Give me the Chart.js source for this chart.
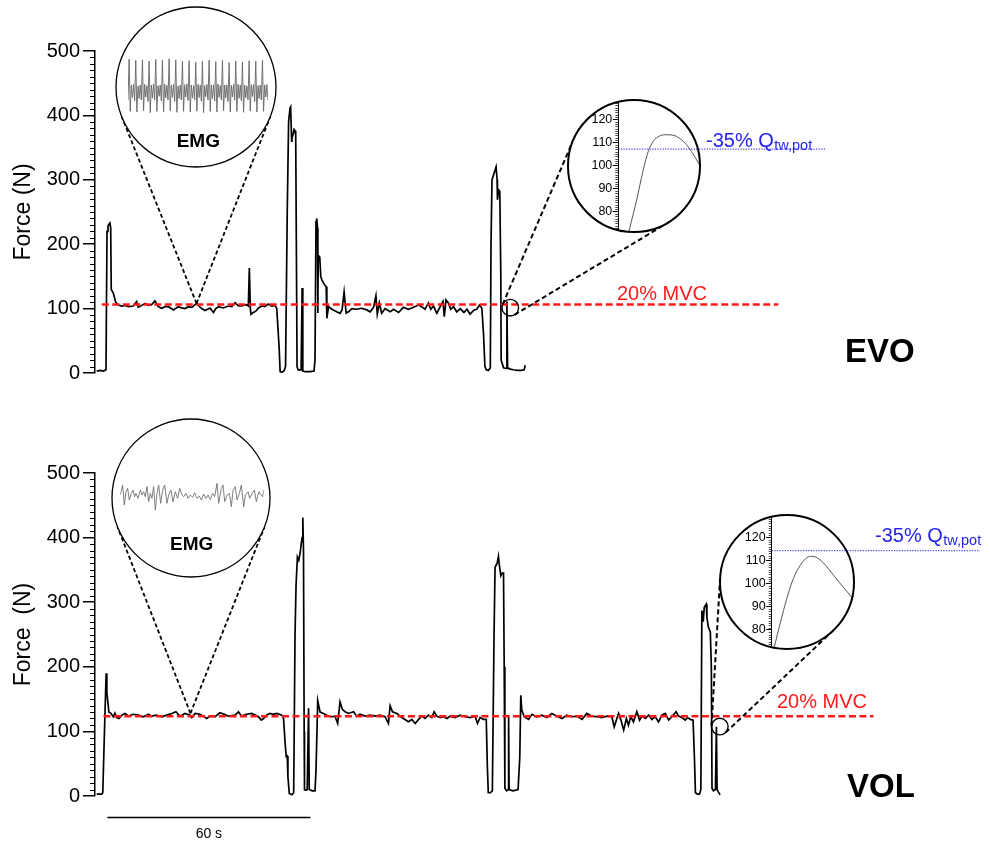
<!DOCTYPE html>
<html><head><meta charset="utf-8">
<script src="https://cdn.jsdelivr.net/npm/chart.js@4.4.1/dist/chart.umd.min.js"></script>
<style>
html,body{margin:0;padding:0;background:#fff;}
#wrap{position:relative;width:990px;height:842px;overflow:hidden;background:#fff;}
#wrap canvas{position:absolute;}
</style></head><body><div id="wrap"></div>
<script>
// ================= DATA =================
// EVO force trace: time (s), force (N)
const evoTime = [0.5,1.5,2.5,3.25,3.55,3.84,4.1,4.43,4.64,4.8,5.4,6.1,6.9,7.9,9.0,9.9,11.3,12.3,12.8,13.8,14.8,15.8,16.7,17.7,18.7,19.7,20.7,21.7,23.2,24.6,25.6,26.6,27.6,28.6,30.0,30.7,31.5,32.5,34.0,35.0,35.7,36.5,37.9,39.4,40.4,41.4,42.4,43.3,44.8,45.3,45.6,45.9,46.1,46.8,47.5,48.3,49.3,50.2,51.2,52.2,53.2,53.7,54.4,54.7,55.3,55.9,56.3,56.8,57.2,57.6,57.8,58.1,58.2,58.5,58.8,59.1,59.3,59.6,59.7,60.0,60.9,61.2,61.4,62.1,63.6,64.7,65.0,65.3,65.5,65.75,65.85,65.95,66.4,66.7,67.0,67.7,68.3,68.5,69.0,70.0,71.4,72.4,73.0,73.6,74.2,74.9,75.9,77.3,78.8,80.3,81.3,82.3,83.0,83.4,84.0,84.7,85.7,87.2,88.2,89.7,91.1,92.6,94.1,95.6,96.5,97.5,98.5,99.2,100.0,101.0,102.0,102.8,103.2,103.7,104.4,105.1,105.9,106.9,107.9,109.0,109.9,110.8,112.0,112.8,113.6,114.3,114.8,115.2,115.6,116.2,116.8,117.0,117.3,117.9,118.5,118.8,118.9,119.3,119.6,119.9,120.0,120.7,121.5,121.7,121.9,122.7,123.6,124.7,125.9,126.8,127.1];
const evoForce = [3,4,3,5,220,228,231,233,225,130,124,110,105.6,104,105,103,104,111,102,105,108,105,106,112,103,100.5,103,103,98,103,101,100,103,102,108,104,100,97,101,94,100,103,101,104,103,109,104,104,106,104,163,100,91,94,96,101,104,103,107,104,105,100,40,2,1,4,10,250,390,411,413,360,365,370,378,376,370,100,10,5,5,132,3,2,2,3,20,235,240,225,93,183,180,150,145,138,134,85,103,99,95,92.7,98,126,93,95,100,99,100.5,98,95,102,120,91.5,108.7,92.7,100,95,99,94,102,99,102,105.6,103,99,108.7,99,104,92.7,103,111,87.6,113.5,108.7,99,103,95,100,94,99,91.5,97.8,99,105.6,100.5,60,10,5,4,8,200,300,310,320,300,269,284,282,150,20,8,7,111,8,6,5,4,4,5,12];

// VOL force trace: time (s), force (N)
const volTime = [0.5,2.0,2.3,2.9,3.3,3.5,3.75,4.1,4.7,5.4,5.9,6.4,7.1,7.9,8.9,9.9,11.3,12.8,14.3,15.8,16.7,18.2,19.7,21.2,22.7,23.9,25.1,26.6,28.1,28.6,29.6,31.0,32.0,33.0,34.0,35.5,36.9,38.4,39.4,41.4,42.4,43.3,44.8,46.3,47.3,48.3,49.1,49.8,50.7,51.7,52.7,53.7,55.2,55.7,56.2,56.5,56.8,57.0,57.4,58.2,58.7,59.1,59.4,59.8,60.2,60.6,60.9,61.2,61.4,61.6,61.8,61.9,62.4,62.7,63.1,63.3,64.2,65.0,65.3,65.8,66.5,67.5,69.0,70.0,70.9,71.7,72.4,73.1,73.9,74.9,76.4,77.3,78.3,79.8,81.3,82.8,84.2,85.7,86.7,87.2,87.9,89.2,90.1,91.1,92.6,93.6,94.6,95.6,96.6,97.5,98.5,99.5,100.2,101.0,102.0,103.0,104.0,104.9,106.4,107.9,109.4,110.8,112.3,113.0,113.8,114.8,115.6,115.9,116.2,116.8,117.4,117.9,118.2,118.8,119.2,119.4,119.9,120.3,120.7,120.9,121.1,121.6,122.1,122.2,122.35,123.5,125.0,125.5,125.8,126.1,126.8,128.1,129.1,130.5,132.0,133.5,135.0,136.5,138.0,139.4,140.9,142.4,143.9,145.3,146.8,148.3,149.8,151.2,152.7,153.4,154.2,154.7,155.4,156.2,157.0,157.6,158.3,159.1,160.1,160.9,161.6,162.6,163.6,164.5,165.5,166.5,167.5,168.5,169.5,170.4,171.7,172.4,173.4,174.4,175.1,175.9,176.7,177.1,177.4,178.0,178.6,179.0,179.3,179.7,180.0,180.6,180.8,181.2,181.8,182.1,182.3,182.7,183.3,183.6,183.8,184.2,184.7];
const volForce = [3,3,5,120,190,160,148,130,128,122.7,128.3,121.5,120,125.2,127.8,123.6,126.5,125.2,122.7,126.5,123.6,125.2,122.7,125.2,127.8,130.4,123.6,127.8,125.2,121.5,127.8,126.5,123.6,120,123.6,122.7,128.8,126.2,123.6,125.2,130.4,123.6,126.5,127.8,125.2,122.7,117.5,120,125.2,127.8,126.5,127.8,125.2,120,80,61,62,30,4,2,5,250,326,370,365,376,389,400,431,380,100,10,9,10,136,10,8,8,40,147.5,130,127.8,123.6,122.7,123.6,112.3,145.7,134,130.4,127.8,130.4,123.6,126.5,123.6,125.2,123.6,125.2,122.7,112.3,139.6,130.4,127.8,123.6,120,114.9,118.5,112.3,118.5,123.6,120,125.2,121.5,130.4,123.6,121.5,122.7,120,123.6,121.5,125.2,122.7,121.5,123.6,112.3,121.5,118.5,118.5,50,5,5,8,250,354,360,371,360,341,345,345,200,12,8,10,125,10,8,10,60,156,133,122.7,118.5,126.5,122.7,125.2,121.5,127.8,123.6,120,125.2,122.7,123.6,118.5,127.8,123.6,122.7,121.5,123.6,122.7,107.1,120,127.8,117.5,102,120,109.7,122.7,114.9,130.4,117.5,123.6,120,125.2,118.5,122.7,114.9,125.2,127.8,117.5,122.7,130.4,123.6,121.5,117.5,121.5,118.5,117.5,60,5,3,3,10,287,270,292,297,276,262,254,200,12,8,10,107,10,6,2];

// 20% MVC reference levels (N) and the time span of each dashed line (s)
const mvcEvo = 106.5, mvcVol = 123.6;
const mvcSpanEvo = [2.0, 201.9];
const mvcSpanVol = [2.5, 230.0];

// Zoomed twitch (inset) curves: time (ms), force (N)
const evoTwitchTime = [5.0,5.5,9.2,12.5,15,17.5,20.8,24.2,29.2,34.2,37.5,40.5,41.5];
const evoTwitchForce = [70,72,85,98,106,110.4,112.8,113.3,112.6,109,105,100.7,99.5];
const volTwitchTime = [0.5,1.3,4.2,7.5,10.8,14.2,17.5,20,22.5,25.8,30.8,35.8,40.5,41.5];
const volTwitchForce = [70,72.7,82.8,93.5,102.2,107.9,111.2,111.8,111.2,108.9,103.6,98.3,93.5,92.5];
// -35% Qtw,pot levels (N)
const qEvo = 107.1, qVol = 114.2;

// EMG snippets (arbitrary units)
const emgEvo = [-0.5, 0.86,-0.88,0.0,-0.42,0.02,-0.52, 0.82,-0.9,-0.03,-0.45,0.0,-0.5, 0.84,-0.86,0.02,-0.4,-0.02,-0.55, 0.8,-0.92,0.0,-0.44,0.03,-0.5, 0.85,-0.88,-0.02,-0.38,0.0,-0.53, 0.83,-0.9,0.03,-0.43,-0.01,-0.5, 0.87,-0.86,0.0,-0.41,0.02,-0.55, 0.84,-0.91,-0.03,-0.45,0.0,-0.5, 0.79,-0.88,0.01,-0.4,0.03,-0.52, 0.81,-0.9,0.0,-0.44,-0.02,-0.5, 0.76,-0.87,0.02,-0.42,0.0,-0.54, 0.8,-0.92,-0.02,-0.39,0.02,-0.5, 0.83,-0.88,0.0,-0.45,0.01,-0.53, 0.78,-0.9,0.03,-0.41,-0.02,-0.5, 0.82,-0.86,0.0,-0.43,0.0,-0.55, 0.75,-0.9,-0.01,-0.4,0.02,-0.5, 0.8,-0.88,0.02,-0.44,0.0,-0.52, 0.77,-0.91,0.0,-0.42,-0.03,-0.5, 0.81,-0.87,0.01,-0.38,0.02,-0.55, 0.79,-0.9,-0.02,-0.45,0.0,-0.5, 0.82,-0.88,0.0,-0.4,0.02,-0.52];
const emgVolTime = [25,32,37,42,47,52,58,63,68,72,78,85,90,95,100,105,110,115,120,125,130,135,140,146,152,158,165,170,177,183,190,197,203,210,215,222,228,235,242,248,255,262,268,275,282,288,295,302,308,315,320,328,333,338,345,352,358,363,370,375,382,388,395,400,408,413,420,427,433,440,447,452,455];
const emgVol = [0.11,0.78,-0.56,0.33,0.56,-0.22,0.22,0.44,0,0.22,-0.11,0.44,0.11,0.33,0,0.67,-0.33,0.22,-0.11,0.67,-0.89,0.22,0.78,-0.44,0.44,0.78,-0.44,0.11,0.44,-0.33,0.33,-0.11,0.56,0.11,0,0.22,-0.11,0.11,-0.04,0.27,-0.11,0.04,-0.22,0.18,-0.11,0.11,-0.18,0.22,0,0.89,-0.44,0.56,0.78,-0.33,0.11,0.22,-0.67,0.44,0.67,-0.22,0.22,0.78,-0.67,0.11,0.33,-0.11,0.22,0.44,-0.33,0.33,0.11,0,0.44];

// sites on the force traces that are magnified: [time s, force N]
const evoEmgSite = [30.0, 108];
const volEmgSite = [28.2, 128];
const evoTwitchSite = [122.7, 101.4];
const volTwitchSite = [184.6, 107.4];
// time scale bar (s)
const scaleBarSpan = [3.64, 63.64];
const scaleBarLabel = '60 s';

// ================= LAYOUT / STYLE =================
const FONT = "'Liberation Sans', Arial, Helvetica, sans-serif";
Chart.defaults.font.family = FONT;
Chart.defaults.color = '#000';
const RED = '#ff1a1a', BLUE = '#2424ee';
const LAY = {
  evo: {top: 0, h: 420, pad: {left: 0, right: 15, top: 51, bottom: 47}, title: 'Force (N)', name: 'EVO', nameX: 845, nameY: 362,
        mvcLabel: {x: 617, y: 300}},
  vol: {top: 420, h: 422, pad: {left: 0, right: 15, top: 53, bottom: 46}, title: 'Force  (N)', name: 'VOL', nameX: 847, nameY: 797,
        mvcLabel: {x: 777, y: 708}},
  evoEmg: {cx: 196, cy: 87, r: 80, area: {l: 128, r: 268, t: 55, b: 115}, label: {x: 198.3, y: 147.3}},
  volEmg: {cx: 191, cy: 498, r: 79, area: {l: 120.3, r: 263.7, t: 478.7, b: 514.7}, label: {x: 191.7, y: 549.5}},
  evoTw: {cx: 634, cy: 166, r: 66, axisX: 618.3, ymin: 71.2, ymax: 128.35, lineEnd: 825, text: {x: 706, y: 146.7}},
  volTw: {cx: 787, cy: 582, r: 67, axisX: 771.7, ymin: 71.8, ymax: 129.6, lineEnd: 980, text: {x: 875, y: 541.7}},
  smallR: 8.3
};
const wrap = document.getElementById('wrap');
function makeCanvas(left, top, w, h) {
  const c = document.createElement('canvas');
  c.width = w; c.height = h;
  c.style.left = left + 'px'; c.style.top = top + 'px';
  c.style.width = w + 'px'; c.style.height = h + 'px';
  wrap.appendChild(c);
  return c;
}
function pts(xs, ys) { return xs.map((x, i) => ({x: x, y: ys[i]})); }
function extTangents(c1, r1, c2, r2) {
  const dx = c2.x - c1.x, dy = c2.y - c1.y, L = Math.hypot(dx, dy);
  const base = Math.atan2(dy, dx), th = Math.acos((r1 - r2) / L);
  return [base + th, base - th].map(a => {
    const nx = Math.cos(a), ny = Math.sin(a);
    return [c1.x + r1 * nx, c1.y + r1 * ny, c2.x + r2 * nx, c2.y + r2 * ny];
  });
}
function pointTangents(p, c, r) {
  const dx = p.x - c.x, dy = p.y - c.y, d = Math.hypot(dx, dy);
  const base = Math.atan2(dy, dx), th = Math.acos(r / d);
  return [base + th, base - th].map(a => [p.x, p.y, c.x + r * Math.cos(a), c.y + r * Math.sin(a)]);
}
function dashedLine(ctx, seg, dash, lw) {
  ctx.save(); ctx.strokeStyle = '#000'; ctx.lineWidth = lw; ctx.setLineDash(dash);
  ctx.beginPath(); ctx.moveTo(seg[0], seg[1]); ctx.lineTo(seg[2], seg[3]); ctx.stroke(); ctx.restore();
}

// ================= MAIN FORCE CHARTS =================
function mainChart(p, T, F, mvc, mvcSpan, emgSite, emgC, twSite, twC, withBar) {
  const cv = makeCanvas(0, p.top, 990, p.h);
  const deco = {
    id: 'deco',
    afterDraw(chart) {
      const ctx = chart.ctx, xs = chart.scales.x, ys = chart.scales.y;
      const ax = chart.chartArea.left;
      // minor ticks
      ctx.save(); ctx.strokeStyle = '#000'; ctx.lineWidth = 1;
      for (let v = 0; v <= 500; v += 10) {
        if (v % 100 === 0) continue;
        const y = Math.round(ys.getPixelForValue(v)) + 0.5;
        ctx.beginPath(); ctx.moveTo(ax - 5, y); ctx.lineTo(ax, y); ctx.stroke();
      }
      ctx.restore();
      // MVC label
      ctx.save(); ctx.fillStyle = RED; ctx.font = '20px ' + FONT; ctx.textBaseline = 'alphabetic';
      ctx.fillText('20% MVC', p.mvcLabel.x, p.mvcLabel.y - p.top); ctx.restore();
      // EMG connectors
      const ep = {x: xs.getPixelForValue(emgSite[0]), y: ys.getPixelForValue(emgSite[1])};
      pointTangents(ep, {x: emgC.cx, y: emgC.cy - p.top}, emgC.r).forEach(s => dashedLine(ctx, s, [4, 2.6], 1.8));
      // small twitch circle and connectors
      const tp = {x: xs.getPixelForValue(twSite[0]), y: ys.getPixelForValue(twSite[1])};
      ctx.save(); ctx.strokeStyle = '#000'; ctx.lineWidth = 1.4;
      ctx.beginPath(); ctx.arc(tp.x, tp.y, LAY.smallR, 0, Math.PI * 2); ctx.stroke(); ctx.restore();
      extTangents(tp, LAY.smallR, {x: twC.cx, y: twC.cy - p.top}, twC.r).forEach(s => dashedLine(ctx, s, [5, 3], 2));
      // panel name
      ctx.save(); ctx.fillStyle = '#000'; ctx.font = 'bold 33px ' + FONT;
      ctx.fillText(p.name, p.nameX, p.nameY - p.top); ctx.restore();
      // scale bar
      if (withBar) {
        const x1 = xs.getPixelForValue(scaleBarSpan[0]), x2 = xs.getPixelForValue(scaleBarSpan[1]);
        const y = 817.5 - p.top;
        ctx.save(); ctx.strokeStyle = '#000'; ctx.lineWidth = 1.3;
        ctx.beginPath(); ctx.moveTo(x1, y); ctx.lineTo(x2, y); ctx.stroke();
        ctx.fillStyle = '#000'; ctx.font = '14px ' + FONT; ctx.textAlign = 'center';
        ctx.fillText(scaleBarLabel, (x1 + x2) / 2, 838 - p.top); ctx.restore();
      }
    }
  };
  return new Chart(cv, {
    type: 'line',
    data: {datasets: [
      {data: mvcSpan.map(t => ({x: t, y: mvc})), borderColor: RED, borderWidth: 2.5, borderDash: [7, 3.5], pointRadius: 0},
      {data: pts(T, F), borderColor: '#000', borderWidth: 1.7, pointRadius: 0, tension: 0}
    ]},
    options: {
      responsive: false, animation: false, events: [], devicePixelRatio: 1,
      layout: {padding: p.pad},
      plugins: {legend: {display: false}, tooltip: {enabled: false}},
      scales: {
        x: {type: 'linear', min: 0, max: 260, display: false},
        y: {
          min: 0, max: 500,
          ticks: {stepSize: 100, padding: 3, color: '#000', font: {size: 20}},
          grid: {drawOnChartArea: false, tickLength: 12, tickColor: '#000', lineWidth: 1.5},
          border: {display: true, color: '#000', width: 1.5},
          title: {display: true, text: p.title, color: '#000', font: {size: 23}, padding: {top: 10, bottom: 0}},
          afterFit(s) { s.width = 95; s.paddingTop = 0; s.paddingBottom = 0; }
        }
      }
    },
    plugins: [deco]
  });
}

// ================= CIRCULAR INSETS =================
function circlePlugin(cx, cy, r, lw, inner, outer) {
  return {
    id: 'circ',
    beforeDraw(chart) {
      const ctx = chart.ctx; ctx.save();
      ctx.beginPath(); ctx.arc(cx, cy, r, 0, Math.PI * 2); ctx.fillStyle = '#fff'; ctx.fill(); ctx.clip();
    },
    afterDatasetsDraw(chart) { if (inner) inner(chart); },
    afterDraw(chart) {
      const ctx = chart.ctx; ctx.restore();
      ctx.save(); ctx.beginPath(); ctx.arc(cx, cy, r, 0, Math.PI * 2);
      ctx.lineWidth = lw; ctx.strokeStyle = '#000'; ctx.stroke(); ctx.restore();
      if (outer) outer(chart);
    }
  };
}
function emgInset(c, xs, ys, xmin, xmax, ymin, ymax, color) {
  const left = c.cx - c.r - 3, top = c.cy - c.r - 3, size = 2 * c.r + 6;
  const cv = makeCanvas(left, top, size, size);
  const lbl = ch => {
    const ctx = ch.ctx; ctx.save(); ctx.fillStyle = '#000'; ctx.font = 'bold 19px ' + FONT; ctx.textAlign = 'center';
    ctx.fillText('EMG', c.label.x - left, c.label.y - top); ctx.restore();
  };
  new Chart(cv, {
    type: 'line',
    data: {datasets: [{data: pts(xs, ys), borderColor: color, borderWidth: 0.9, pointRadius: 0, tension: 0}]},
    options: {
      responsive: false, animation: false, events: [], devicePixelRatio: 1,
      layout: {padding: {left: c.area.l - left, right: left + size - c.area.r, top: c.area.t - top, bottom: top + size - c.area.b}},
      plugins: {legend: {display: false}, tooltip: {enabled: false}},
      scales: {x: {type: 'linear', display: false, min: xmin, max: xmax}, y: {display: false, min: ymin, max: ymax}}
    },
    plugins: [circlePlugin(c.cx - left, c.cy - top, c.r, 1.3, null, lbl)]
  });
}
function twitchInset(c, xs, ys, qLevel) {
  const left = c.cx - c.r - 10, top = c.cy - c.r - 10, w = 990 - left, h = 2 * c.r + 20;
  const cv = makeCanvas(left, top, w, h);
  const inner = ch => {
    const ctx = ch.ctx, sy = ch.scales.y, ax = ch.chartArea.left;
    ctx.save(); ctx.strokeStyle = '#222'; ctx.lineWidth = 0.8;
    for (let v = Math.ceil(c.ymin); v <= c.ymax; v++) {
      if (v % 10 === 0) continue;
      const y = Math.round(sy.getPixelForValue(v)) + 0.5;
      ctx.beginPath(); ctx.moveTo(ax - 3, y); ctx.lineTo(ax, y); ctx.stroke();
    }
    ctx.restore();
  };
  const outer = ch => {
    const ctx = ch.ctx, sy = ch.scales.y, ax = ch.chartArea.left;
    const y = sy.getPixelForValue(qLevel);
    ctx.save(); ctx.strokeStyle = BLUE; ctx.lineWidth = 1; ctx.setLineDash([1.3, 1.3]);
    ctx.beginPath(); ctx.moveTo(ax, y); ctx.lineTo(c.lineEnd - left, y); ctx.stroke(); ctx.restore();
    ctx.save(); ctx.fillStyle = BLUE; ctx.font = '20px ' + FONT;
    const tx = c.text.x - left, ty = c.text.y - top;
    ctx.fillText('-35% Q', tx, ty);
    const wMain = ctx.measureText('-35% Q').width;
    ctx.font = '14.5px ' + FONT;
    ctx.fillText('tw,pot', tx + wMain + 0.5, ty + 3);
    ctx.restore();
  };
  new Chart(cv, {
    type: 'line',
    data: {datasets: [{data: pts(xs, ys), borderColor: '#555', borderWidth: 1, pointRadius: 0, cubicInterpolationMode: 'monotone'}]},
    options: {
      responsive: false, animation: false, events: [], devicePixelRatio: 1,
      layout: {padding: {left: 0, right: w - (c.cx + c.r - left), top: 10, bottom: 10}},
      plugins: {legend: {display: false}, tooltip: {enabled: false}},
      scales: {
        x: {type: 'linear', display: false, min: 0, max: 41},
        y: {
          min: c.ymin, max: c.ymax,
          ticks: {stepSize: 10, autoSkip: false, padding: 0.5, color: '#000', font: {size: 12.5},
                  callback: v => (Math.abs(v % 10) < 1e-6 ? String(v) : '')},
          grid: {drawOnChartArea: false, tickLength: 5.5, lineWidth: 1,
                 tickColor: ctx => (ctx.tick && Math.abs(ctx.tick.value % 10) < 1e-6 ? '#000' : 'rgba(0,0,0,0)')},
          border: {display: true, color: '#000', width: 1},
          afterFit(s) { s.width = c.axisX - left; s.paddingTop = 0; s.paddingBottom = 0; }
        }
      }
    },
    plugins: [circlePlugin(c.cx - left, c.cy - top, c.r, 2, inner, outer)]
  });
}

// ================= BUILD =================
mainChart(LAY.evo, evoTime, evoForce, mvcEvo, mvcSpanEvo, evoEmgSite, LAY.evoEmg, evoTwitchSite, LAY.evoTw, false);
mainChart(LAY.vol, volTime, volForce, mvcVol, mvcSpanVol, volEmgSite, LAY.volEmg, volTwitchSite, LAY.volTw, true);
emgInset(LAY.evoEmg, emgEvo.map((_, i) => i), emgEvo, 0, emgEvo.length - 1, -1, 1, '#666');
emgInset(LAY.volEmg, emgVolTime, emgVol, 25, 455, -1.2, 1.2, '#707070');
twitchInset(LAY.evoTw, evoTwitchTime, evoTwitchForce, qEvo);
twitchInset(LAY.volTw, volTwitchTime, volTwitchForce, qVol);
</script></body></html>
